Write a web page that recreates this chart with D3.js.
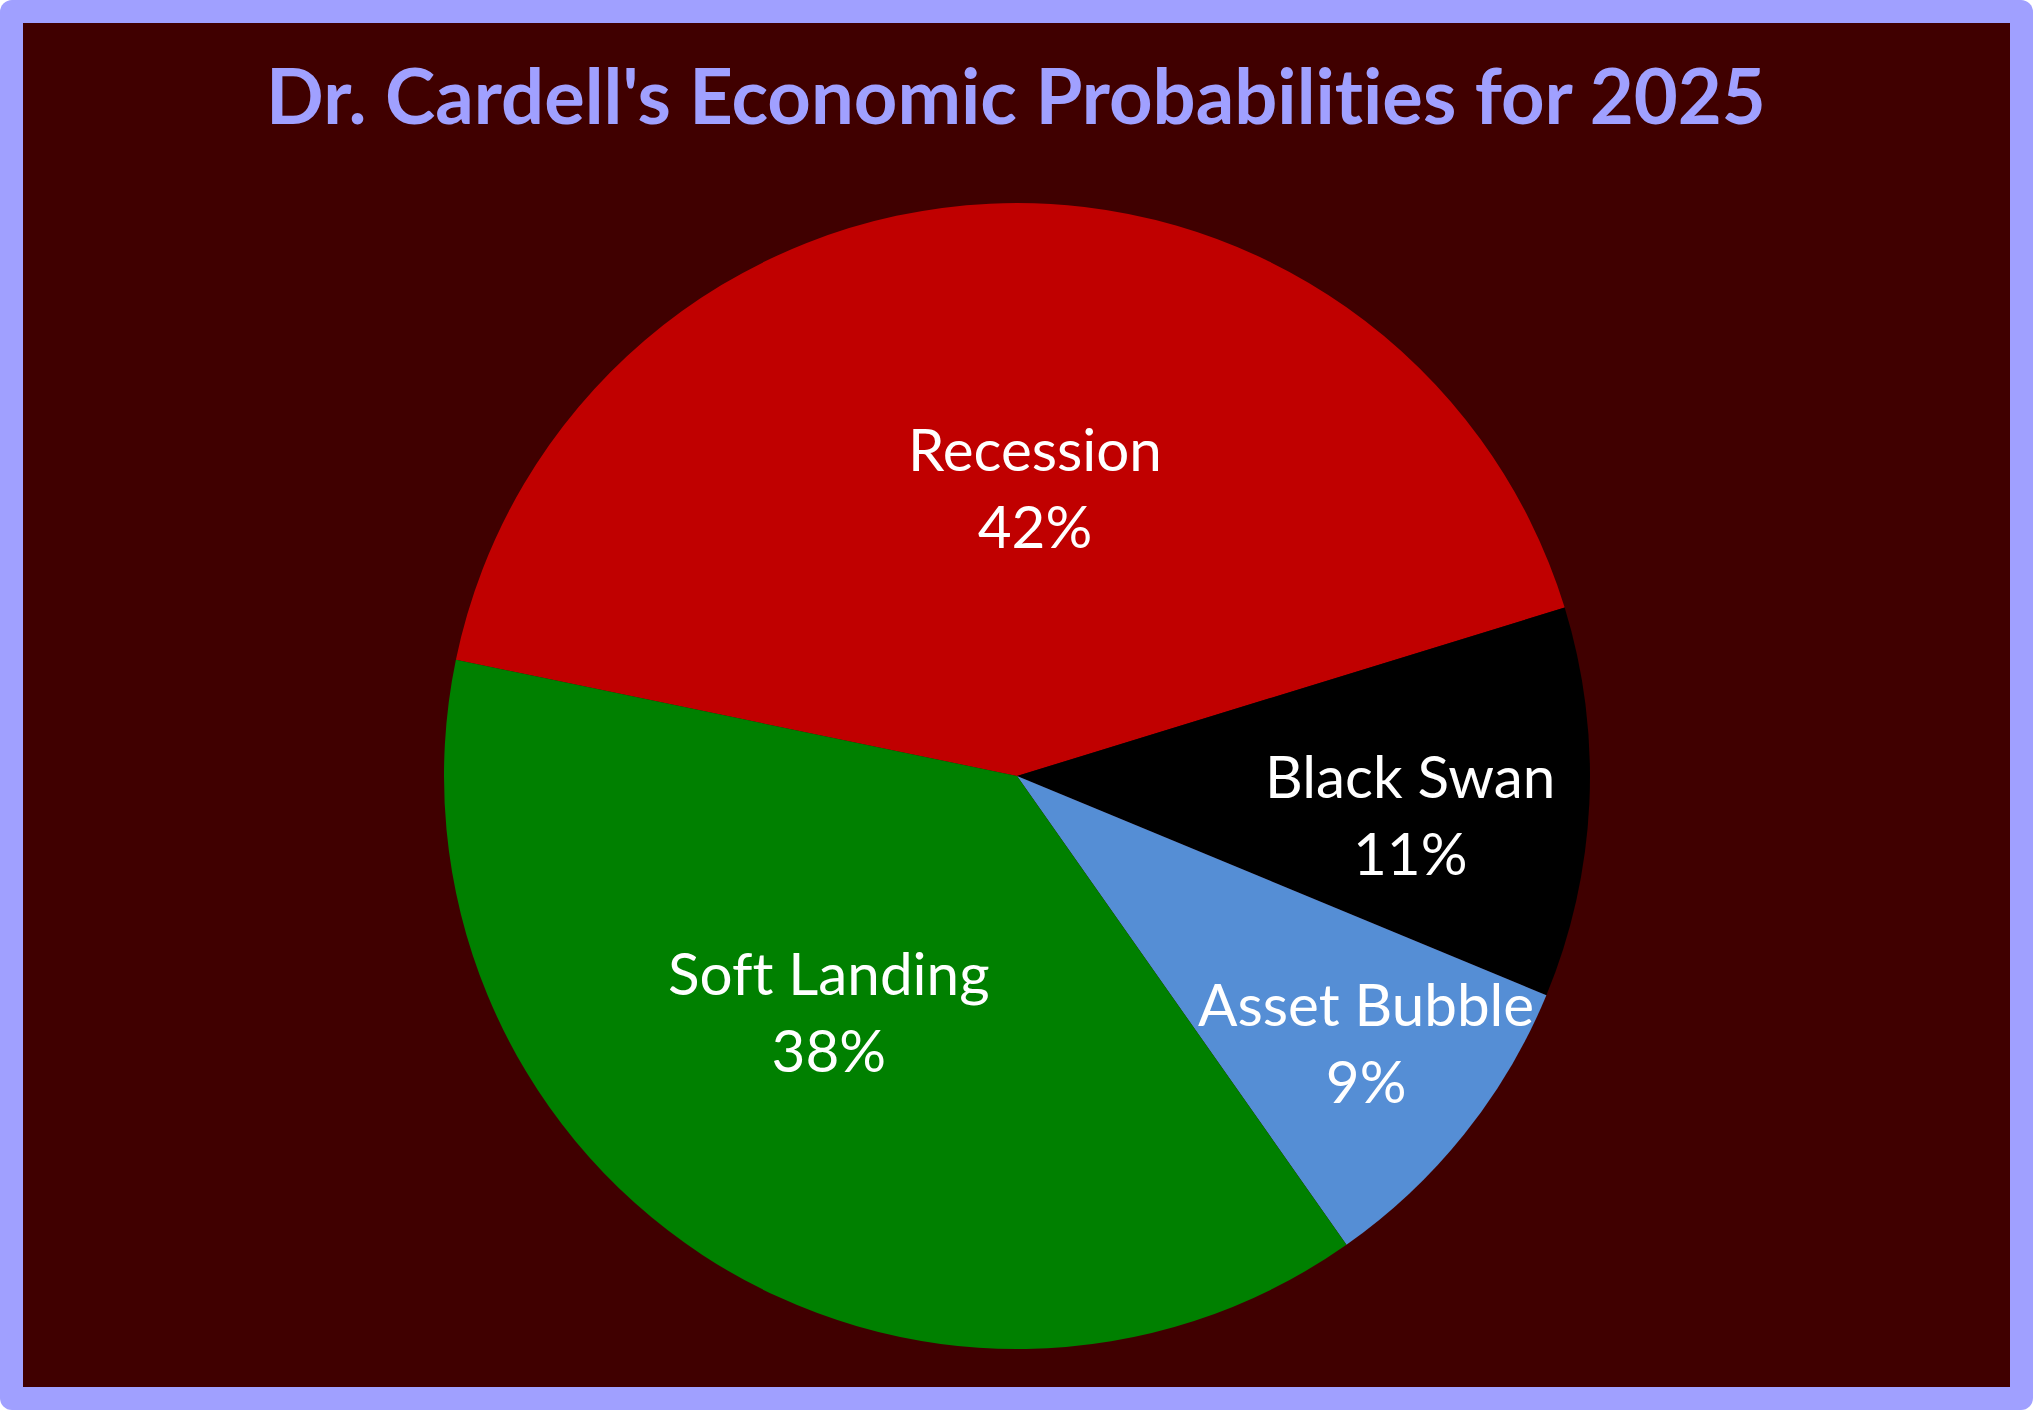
<!DOCTYPE html>
<html>
<head>
<meta charset="utf-8">
<script src="https://cdn.jsdelivr.net/npm/d3@7"></script>
<style>
  html, body { margin: 0; padding: 0; background: #ffffff; }
  svg { display: block; }
  text { font-variant-ligatures: none; font-feature-settings: "liga" 0, "clig" 0; }
</style>
</head>
<body>
<svg id="chart" width="2033" height="1410"></svg>
<script>
// ---- data ----
const titleText = "Dr. Cardell's Economic Probabilities for 2025";
const categories = ["Recession", "Black Swan", "Asset Bubble", "Soft Landing"];
const values = [42, 11, 9, 38];
const percentLabels = ["42%", "11%", "9%", "38%"];
const sliceColors = ["#C00000", "#000000", "#558ED5", "#008000"];

// ---- layout ----
const W = 2033, H = 1410;
const border = { left: 23, top: 23, right: 23, bottom: 23 };
const cx = 1017, cy = 776, R = 573;
const startDeg = -78.3;
// label placement: radius factor and angle offset (deg) per slice
const labelRadius = [0.50, 0.69, 0.77, 0.53];
const labelAngleOffset = [6.3, 3.3, -1, 5];

const svg = d3.select("#chart");

svg.append("rect").attr("x", 0).attr("y", 0).attr("width", W).attr("height", H)
  .attr("rx", 12).attr("ry", 12).attr("fill", "#A0A0FF");
svg.append("rect").attr("x", border.left).attr("y", border.top)
  .attr("width", W - border.left - border.right)
  .attr("height", H - border.top - border.bottom)
  .attr("fill", "#400000");

// title
const title = svg.append("text")
  .attr("x", 1016).attr("y", 124)
  .attr("text-anchor", "middle")
  .attr("font-family", "Lato, 'Open Sans', sans-serif")
  .attr("font-weight", "bold")
  .attr("font-size", 68)
  .attr("fill", "#A0A0FF")
  .text(titleText);
{
  const w = title.node().getComputedTextLength();
  title.attr("font-size", 68 * 1500 / w);
}

const toRad = d => d * Math.PI / 180;
const pie = d3.pie().sort(null).value(d => d.value)
  .startAngle(toRad(startDeg)).endAngle(toRad(startDeg + 360));
const data = categories.map((c, i) => ({ name: c, value: values[i], pct: percentLabels[i], color: sliceColors[i], i }));
const arcs = pie(data);
const arc = d3.arc().innerRadius(0).outerRadius(R);

const g = svg.append("g").attr("transform", `translate(${cx},${cy})`);
g.selectAll("path.slice").data(arcs).join("path")
  .attr("class", "slice")
  .attr("d", arc)
  .attr("fill", d => d.data.color);

// labels
const fontFam = "Lato, 'Open Sans', sans-serif";
const probe = svg.append("text").attr("font-family", fontFam).attr("font-size", 60).text("Recession");
const fs = 60 * 254 / probe.node().getComputedTextLength();
probe.remove();
const lineGap = 77;

const labels = g.selectAll("g.lbl").data(arcs).join("g").attr("class", "lbl")
  .attr("transform", d => {
    const mid = (d.startAngle + d.endAngle) / 2 + toRad(labelAngleOffset[d.data.i]);
    const r = R * labelRadius[d.data.i];
    return `translate(${r * Math.sin(mid)},${-r * Math.cos(mid)})`;
  });
labels.append("text")
  .attr("text-anchor", "middle")
  .attr("font-family", fontFam).attr("font-size", fs).attr("fill", "#ffffff")
  .attr("y", -lineGap / 2 + fs * 0.36 - 2)
  .text(d => d.data.name);
labels.append("text")
  .attr("text-anchor", "middle")
  .attr("font-family", fontFam).attr("font-size", fs).attr("fill", "#ffffff")
  .attr("y", lineGap / 2 + fs * 0.36 - 2)
  .text(d => d.data.pct);
</script>
</body>
</html>
